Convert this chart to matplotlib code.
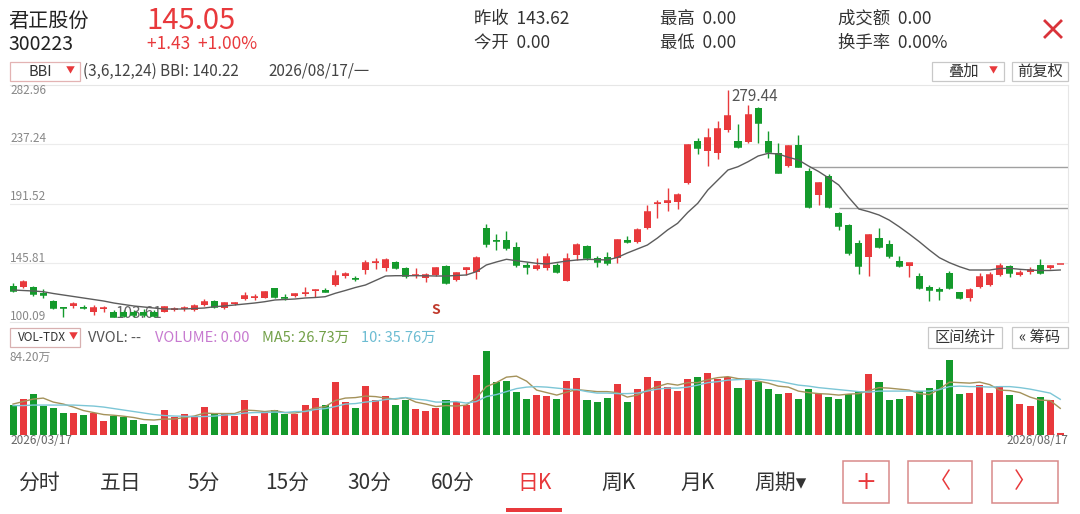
import matplotlib
matplotlib.use('Agg')
import matplotlib.pyplot as plt
from matplotlib.patches import Rectangle
from matplotlib.lines import Line2D
import numpy as np

plt.rcParams['font.family'] = ['Noto Sans CJK SC', 'DejaVu Sans']

# ---------------- data ----------------
OPEN = [128.10,127.33,126.86,122.23,116.53,111.28,112.67,111.90,107.57,109.89,
        107.57,107.81,107.81,108.04,107.57,108.04,109.12,109.89,109.35,113.21,
        116.29,111.12,114.21,117.84,118.84,118.84,126.09,119.61,120.15,121.46,
        124.01,124.78,128.64,135.82,134.27,140.21,145.38,141.52,146.16,141.52,
        135.58,133.81,136.36,143.53,132.50,140.21,138.90,172.39,163.36,163.36,
        158.19,144.07,140.98,141.52,144.07,131.96,151.79,158.73,149.24,150.48,
        149.24,163.36,162.05,172.39,190.91,192.14,192.91,206.96,239.75,232.27,
        230.26,248.24,239.75,239.21,264.98,239.75,230.72,220.46,236.66,216.83,
        198.08,212.74,183.96,174.94,161.28,150.01,164.67,160.27,147.16,143.30,
        135.82,126.86,125.32,138.13,123.01,118.38,127.33,128.64,136.36,143.30,
        136.36,138.90,144.07,141.52,145.05]
CLOSE = [124.01,130.72,121.46,120.92,110.66,110.51,113.75,111.12,110.66,110.66,
         104.18,104.72,105.49,105.49,104.95,111.90,109.89,110.66,112.67,115.75,
         111.90,114.98,114.98,120.15,119.61,123.01,119.15,118.84,121.46,122.70,
         124.78,123.47,135.82,136.90,133.27,145.38,146.62,147.93,141.52,135.58,
         136.36,136.36,141.52,129.95,137.67,141.52,149.24,160.04,162.59,156.96,
         144.07,142.76,143.53,150.48,138.90,148.47,159.50,149.24,146.62,145.38,
         163.36,162.05,171.08,185.20,192.14,193.69,198.08,236.66,234.12,241.83,
         248.78,259.04,235.35,259.81,253.41,231.49,215.29,235.89,219.92,189.06,
         207.11,189.06,174.16,153.10,143.30,167.22,157.73,151.02,143.30,145.38,
         126.09,124.78,124.24,126.09,118.38,124.78,135.04,136.36,143.30,137.67,
         137.67,140.21,137.67,143.62,145.05]
HIGH = [129.95,132.50,127.87,125.32,117.07,111.28,115.75,113.21,113.21,112.44,
        109.35,109.35,109.35,110.12,109.35,112.67,111.66,112.67,113.75,117.84,
        117.07,115.75,115.75,123.01,121.46,124.01,126.56,121.46,122.23,127.33,
        125.55,126.09,140.21,138.90,135.58,147.93,149.70,149.24,147.16,142.76,
        141.52,137.67,142.76,144.07,138.90,142.30,151.25,175.48,167.76,170.31,
        161.59,146.62,149.70,153.33,145.38,153.10,160.82,159.50,151.02,154.33,
        163.90,166.45,172.39,190.37,193.99,203.25,199.40,237.43,241.83,249.55,
        255.41,279.44,252.87,267.53,266.22,247.70,238.44,236.66,244.38,218.68,
        208.35,214.29,185.20,175.71,163.36,167.99,172.39,163.36,151.02,145.38,
        138.13,128.41,127.33,139.67,123.47,126.09,137.67,138.90,145.38,144.07,
        140.21,142.30,148.47,144.07,145.05]
LOW = [123.01,126.09,120.38,118.38,110.12,104.18,110.66,109.89,105.49,108.04,
       103.61,104.00,103.95,104.33,103.90,107.57,108.58,108.81,108.81,112.67,
       111.12,110.12,113.44,117.07,117.07,118.38,118.38,117.07,119.38,120.38,
       119.61,123.01,128.10,133.81,131.96,136.90,140.98,139.44,140.98,133.81,
       133.81,131.19,135.58,129.41,131.73,136.36,133.27,158.19,155.65,155.65,
       142.76,136.90,140.21,140.21,137.67,131.73,147.93,147.93,142.76,144.07,
       145.38,160.82,161.28,171.62,180.11,186.12,186.90,206.57,229.72,220.46,
       225.63,246.93,234.12,238.44,238.44,226.40,214.83,219.92,219.46,187.82,
       190.75,187.82,171.08,151.79,137.13,135.58,156.96,149.24,142.76,135.04,
       125.32,116.53,117.07,125.32,117.61,116.53,126.09,127.87,135.58,134.58,
       135.35,137.13,137.13,140.75,145.05]
BBI = [124.78,124.40,124.01,123.47,122.08,120.92,119.77,118.61,117.45,116.29,
       114.75,113.59,112.44,111.66,110.89,110.12,110.12,110.12,110.51,110.89,
       111.90,112.44,113.21,113.98,114.75,115.75,117.07,117.45,117.84,118.61,
       118.99,119.61,122.23,124.40,126.71,128.64,132.11,135.58,135.82,135.82,
       135.82,135.74,135.58,135.58,135.97,136.36,138.90,144.07,146.39,148.47,
       147.39,146.39,145.38,144.84,146.00,147.16,147.93,148.47,148.24,147.93,
       149.86,153.33,156.42,159.50,164.90,171.08,176.25,184.58,191.68,201.94,
       209.66,217.37,219.92,223.78,228.18,230.26,229.72,227.17,225.09,220.46,
       216.22,211.20,205.80,196.15,187.28,185.20,182.65,178.79,173.62,167.99,
       162.05,155.65,149.70,145.85,142.76,140.21,140.21,140.21,141.37,141.52,
       140.75,140.21,139.83,139.83,140.22]
VOL = [29.6,36.4,40.8,29.0,26.9,21.9,21.9,20.2,22.2,13.8,
       19.5,18.5,15.2,11.1,10.4,25.3,18.5,21.2,17.9,28.0,
       21.2,21.9,18.9,35.4,18.9,22.2,25.3,21.2,21.2,29.6,
       37.4,30.3,53.2,33.0,26.9,48.8,34.7,39.1,29.6,34.7,
       26.3,23.9,26.9,34.7,33.0,30.3,60.0,84.2,53.2,54.2,
       43.1,35.7,39.7,39.1,36.4,54.2,57.6,35.4,33.0,37.0,
       51.5,33.0,45.8,58.3,54.2,48.2,44.1,56.6,58.3,62.3,
       55.9,58.3,47.5,55.6,53.2,46.5,41.4,42.4,36.4,46.5,
       41.4,38.1,36.4,41.4,43.8,61.0,53.2,35.4,36.4,38.7,
       44.1,47.5,55.6,75.1,41.4,42.4,50.5,42.1,48.8,39.7,
       30.6,29.0,38.1,34.7,0.0]
MA5 = [31.0,33.5,36.0,37.0,33.0,31.0,28.0,24.5,22.5,20.5,
       19.8,18.8,17.5,15.5,15.0,16.0,16.0,17.5,19.0,22.0,
       21.5,21.5,21.5,25.0,24.5,23.5,24.5,22.5,22.0,24.0,
       27.0,28.5,34.5,37.0,37.5,39.0,38.5,37.0,36.0,37.5,
       33.0,31.0,28.5,29.5,29.0,30.0,37.0,48.5,52.5,58.0,
       59.0,54.0,45.0,42.5,40.0,43.0,45.5,44.5,43.5,43.5,
       42.5,38.0,40.0,45.0,48.5,51.5,50.0,52.5,52.5,55.5,
       57.5,58.5,56.5,56.0,54.0,52.0,49.0,48.0,44.0,42.5,
       41.5,41.0,40.0,41.0,41.5,44.5,47.5,47.0,46.0,45.0,
       41.5,40.5,46.0,53.0,52.5,52.0,53.0,50.5,45.0,44.5,
       42.5,38.0,35.0,34.5,26.73]
MA10 = [29.5,29.5,30.0,30.0,30.0,30.0,30.0,29.5,29.0,28.0,
        26.5,25.0,23.5,22.0,20.5,19.5,19.0,18.8,18.5,18.5,
        19.0,20.0,20.5,22.0,22.5,22.5,23.0,22.5,23.5,23.5,
        25.5,26.5,28.5,31.0,31.5,33.0,34.0,35.5,36.5,37.5,
        36.0,35.0,33.0,33.0,33.5,32.0,33.5,38.5,40.5,43.5,
        46.5,48.0,48.5,48.0,47.0,46.0,45.5,43.5,42.0,42.0,
        41.5,41.5,42.0,44.0,46.0,47.0,47.0,48.0,50.0,52.5,
        53.5,55.0,55.5,56.0,56.0,55.0,54.0,52.0,50.0,49.0,
        47.5,46.5,45.5,44.5,43.5,43.0,44.0,44.0,44.0,44.0,
        44.0,44.0,45.5,48.5,49.0,48.5,48.5,48.0,48.5,48.5,
        47.5,46.0,44.0,42.0,35.76]
PRICE_TICKS = [100.09, 145.81, 191.52, 237.24, 282.96]
GAP_START = [79, 82]
GAP_PRICE = [219.46, 187.82]
SIGNAL_IDX = 42
TABS = ['分时', '五日', '5分', '15分', '30分', '60分', '日K', '周K', '月K', '周期▾']

RED = '#e8393c'
GREEN = '#149a2c'

W, H = 1080, 514
fig = plt.figure(figsize=(W / 100, H / 100), dpi=100)
fig.patch.set_facecolor('white')


def fx(x):
    return x / W


def fy(y):
    return 1 - y / H


def txt(x, y, s, size, color='#222', ha='left', va='center', **kw):
    fig.text(fx(x), fy(y), s, fontsize=size, color=color, ha=ha, va=va, **kw)


def box(x0, y0, x1, y1, ec='#c8c8c8', lw=0.9):
    fig.patches.append(Rectangle((fx(x0), fy(y1)), fx(x1) - fx(x0), fy(y0) - fy(y1),
                                 transform=fig.transFigure, fill=False, ec=ec, lw=lw))


# ---------------- header ----------------
txt(8, 21, '君正股份', 14.5, '#222')
txt(8, 44, '300223', 14, '#222')
txt(146, 21, '145.05', 21, RED)
txt(147, 44, '+1.43  +1.00%', 12.5, RED)
txt(474, 19, '昨收  143.62', 12.5, '#333')
txt(474, 43, '今开  0.00', 12.5, '#333')
txt(660, 19, '最高  0.00', 12.5, '#333')
txt(660, 43, '最低  0.00', 12.5, '#333')
txt(838, 19, '成交额  0.00', 12.5, '#333')
txt(838, 43, '换手率  0.00%', 12.5, '#333')
for (a, b, c, d) in [(1045, 21, 1061, 37), (1061, 21, 1045, 37)]:
    fig.lines.append(Line2D([fx(a), fx(c)], [fy(b), fy(d)], transform=fig.transFigure,
                            color='#d9333a', lw=2.0))

# indicator row
box(10, 62, 80, 81, ec='#e3b3b3')
txt(40, 71.5, 'BBI', 10.5, '#333', ha='center')
txt(70, 71, '▼', 6.5, RED, ha='center')
txt(83, 71.5, '(3,6,12,24) BBI: 140.22', 11, '#444')
txt(268, 71.5, '2026/08/17/一', 11, '#444')
box(932, 62, 1004, 81)
txt(963, 71.5, '叠加', 11, '#333', ha='center')
txt(993, 71, '▼', 6.5, RED, ha='center')
box(1012, 62, 1068, 81)
txt(1040, 71.5, '前复权', 11, '#333', ha='center')

# ---------------- price panel ----------------
ax = fig.add_axes([fx(10), fy(322), fx(1068) - fx(10), fy(85) - fy(322)])
ax.set_xlim(-0.3, 104.77)
ax.set_ylim(PRICE_TICKS[0], PRICE_TICKS[-1])
ax.set_xticks([])
ax.set_yticks([])
for s in ax.spines.values():
    s.set_color('#e6e6e6')
    s.set_linewidth(0.8)
ax.spines['left'].set_visible(False)
for p in PRICE_TICKS[1:-1]:
    ax.axhline(p, color='#ececec', lw=0.8, zorder=0)

o = np.array(OPEN)
c = np.array(CLOSE)
h = np.array(HIGH)
l = np.array(LOW)
x = np.arange(len(o))
up = c >= o
cols = np.where(up, RED, GREEN)
ax.vlines(x, l, h, colors=cols, lw=1.0, zorder=3)
ax.bar(x, np.abs(c - o), bottom=np.minimum(o, c), width=0.7, color=cols, lw=0, zorder=4)
ax.hlines(c, x - 0.35, x + 0.35, colors=cols, lw=1.1, zorder=4)
ax.plot(x, BBI, color='#5c5c5c', lw=1.0, zorder=5)

for st, gp in zip(GAP_START, GAP_PRICE):
    ax.hlines(gp, st, 104.77, colors='#a0a0a0', lw=1.0, zorder=2)

hi = int(np.argmax(h))
lo = int(np.argmin(l))
ax.annotate(f'{h[hi]:.2f}', (hi, h[hi]), xytext=(3, -7), textcoords='offset pixels',
            fontsize=11, color='#555', va='center', ha='left', zorder=6)
ax.annotate(f'{l[lo]:.2f}', (lo, l[lo]), xytext=(2, 4), textcoords='offset pixels',
            fontsize=11, color='#666', va='center', ha='left', zorder=2)
ax.text(SIGNAL_IDX, 0.02, 'S', transform=ax.get_xaxis_transform(), color='#c0392b',
        fontsize=10, fontweight='bold', ha='center', va='bottom', zorder=6)

# price labels
for p, yy in zip(PRICE_TICKS[::-1], [91, 139, 197, 258, 316]):
    txt(10, yy, f'{p:.2f}', 8.5, '#888')

# ---------------- volume panel ----------------
box(10, 328, 80, 347, ec='#d8b0b0')
txt(42, 337.5, 'VOL-TDX', 8.5, '#333', ha='center')
txt(73, 337, '▼', 6.5, RED, ha='center')
txt(88, 338, 'VVOL: --', 10.5, '#555')
txt(155, 338, 'VOLUME: 0.00', 10.5, '#c77ad0')
txt(262, 338, 'MA5: 26.73万', 10.5, '#72a048')
txt(361, 338, '10: 35.76万', 10.5, '#6cbcd2')
box(928, 327, 1002, 348)
txt(965, 337.5, '区间统计', 11, '#333', ha='center')
box(1012, 327, 1068, 348)
txt(1040, 337.5, '« 筹码', 11, '#333', ha='center')
txt(10, 357, '84.20万', 8.5, '#888')

axv = fig.add_axes([fx(10), fy(435), fx(1068) - fx(10), fy(351) - fy(435)])
axv.set_xlim(-0.3, 104.77)
axv.set_ylim(0, 84.2)
axv.set_xticks([])
axv.set_yticks([])
for s in axv.spines.values():
    s.set_visible(False)
axv.bar(x, VOL, width=0.7, color=cols, lw=0, zorder=2)
zero = np.array(VOL) == 0
axv.hlines(np.zeros(zero.sum()) + 0.6, x[zero] - 0.35, x[zero] + 0.35, colors=cols[zero], lw=1.5)
axv.plot(x, MA5, color='#a4925a', lw=1.0, zorder=3)
axv.plot(x, MA10, color='#7cc6d6', lw=1.0, zorder=3)

txt(10, 441, '2026/03/17', 8.5, '#666')
txt(1068, 441, '2026/08/17', 8.5, '#666', ha='right')

# ---------------- bottom tabs ----------------
tab_x = [39, 121, 204, 287, 369, 453, 535, 618, 698, 780]
for t, tx in zip(TABS, tab_x):
    txt(tx, 483, t, 15, RED if t == '日K' else '#333', ha='center')
fig.patches.append(Rectangle((fx(506), fy(512)), fx(562) - fx(506), fy(508) - fy(512),
                             transform=fig.transFigure, color=RED, lw=0))
box(843, 461, 889, 503, ec='#d88a8a', lw=1.1)
box(908, 461, 972, 503, ec='#d88a8a', lw=1.1)
box(992, 461, 1058, 503, ec='#d88a8a', lw=1.1)
txt(866, 482, '+', 18, RED, ha='center', family=['DejaVu Sans'])
txt(940, 482, '〈', 16, RED, ha='center')
txt(1025, 482, '〉', 16, RED, ha='center')

fig.savefig('out.png', dpi=100, facecolor='white')
